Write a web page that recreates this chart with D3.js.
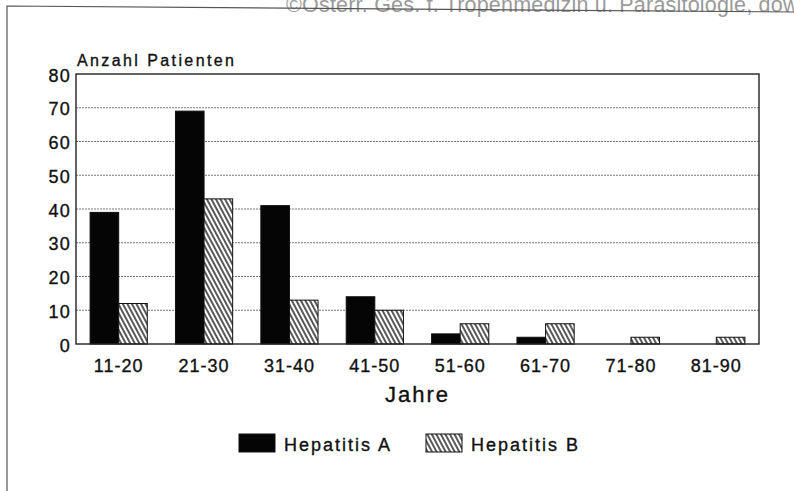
<!DOCTYPE html>
<html>
<head>
<meta charset="utf-8">
<script src="https://cdn.jsdelivr.net/npm/d3@7"></script>
<style>
  body { margin: 0; background: #fff; }
  text { font-family: "Liberation Sans", Arial, sans-serif; fill: #111; }
  .ink { stroke: #111; stroke-width: 0.35px; }
</style>
</head>
<body>
<div id="chart"></div>
<script>
const categories = ["11-20", "21-30", "31-40", "41-50", "51-60", "61-70", "71-80", "81-90"];
const seriesNames = ["Hepatitis A", "Hepatitis B"];
const hepA = [39, 69, 41, 14, 3, 2, 0, 0];
const hepB = [12, 43, 13, 10, 6, 6, 2, 2];
const yTicks = [0, 10, 20, 30, 40, 50, 60, 70, 80];

const svgWidth = 794;
const svgHeight = 491;
const margin = { top: 74, right: 35, bottom: 147, left: 76 };
const width = svgWidth - margin.left - margin.right;
const height = svgHeight - margin.top - margin.bottom;

const root = d3.select("#chart")
  .append("svg")
  .attr("width", svgWidth)
  .attr("height", svgHeight);

// hatch pattern for Hepatitis B
const defs = root.append("defs");
defs.append("pattern")
  .attr("id", "hatch")
  .attr("patternUnits", "userSpaceOnUse")
  .attr("width", 4)
  .attr("height", 8)
  .attr("patternTransform", "rotate(-28)")
  .call(p => {
    p.append("rect").attr("width", 4).attr("height", 8).attr("fill", "#fff");
    p.append("line")
      .attr("x1", 1).attr("y1", 0).attr("x2", 1).attr("y2", 8)
      .attr("stroke", "#111").attr("stroke-width", 1.4);
  });

// watermark (cut at top edge) + page frame
root.append("text")
  .attr("x", 286)
  .attr("y", 12)
  .style("font-size", "21.5px")
  .style("letter-spacing", "0.2px")
  .style("fill", "#9a9a9a")
  .text("©Österr. Ges. f. Tropenmedizin u. Parasitologie, download unter www.biologiezentrum.at");

root.append("path")
  .attr("d", `M7,${svgHeight} V6 L${svgWidth},12`)
  .attr("fill", "none")
  .attr("stroke", "#555")
  .attr("stroke-width", 1.2);

const svg = root.append("g")
  .attr("transform", `translate(${margin.left},${margin.top})`);

const x = d3.scaleBand()
  .domain(categories)
  .range([0, width])
  .paddingInner(0.33)
  .paddingOuter(0.165);

const xSub = d3.scaleBand()
  .domain(seriesNames)
  .range([0, x.bandwidth()]);

const y = d3.scaleLinear()
  .domain([0, 80])
  .range([height, 0]);

// gridlines
svg.append("g")
  .selectAll("line")
  .data(yTicks.filter(t => t > 0 && t < 80))
  .enter()
  .append("line")
  .attr("x1", 0)
  .attr("x2", width)
  .attr("y1", d => y(d))
  .attr("y2", d => y(d))
  .attr("stroke", "#777")
  .attr("stroke-width", 1)
  .attr("stroke-dasharray", "2,1");

const rows = categories.map((c, i) => ({ cat: c, values: [hepA[i], hepB[i]] }));

const group = svg.append("g")
  .selectAll("g")
  .data(rows)
  .enter()
  .append("g")
  .attr("transform", d => `translate(${x(d.cat)},0)`);

group.selectAll("rect")
  .data(d => d.values.map((v, j) => ({ name: seriesNames[j], value: v })))
  .enter()
  .filter(d => d.value > 0)
  .append("rect")
  .attr("x", d => xSub(d.name))
  .attr("y", d => y(d.value))
  .attr("width", xSub.bandwidth())
  .attr("height", d => height - y(d.value))
  .attr("fill", d => d.name === "Hepatitis A" ? "#050505" : "url(#hatch)")
  .attr("stroke", "#111")
  .attr("stroke-width", 1);

// plot frame
svg.append("rect")
  .attr("width", width)
  .attr("height", height)
  .attr("fill", "none")
  .attr("stroke", "#222")
  .attr("stroke-width", 1.4);

// axes
const yAxis = svg.append("g")
  .call(d3.axisLeft(y).tickValues(yTicks).tickSize(0).tickPadding(5));
yAxis.select(".domain").remove();
yAxis.selectAll("text")
  .attr("class", "ink")
  .attr("dy", "0.4em")
  .style("font-size", "18px")
  .style("letter-spacing", "1.2px")
  .style("font-family", "Liberation Sans, Arial, sans-serif")
  .style("fill", "#111");

const xAxis = svg.append("g")
  .attr("transform", `translate(0,${height})`)
  .call(d3.axisBottom(x).tickSize(0).tickPadding(15));
xAxis.select(".domain").remove();
xAxis.selectAll("text")
  .attr("class", "ink")
  .style("font-size", "18px")
  .style("letter-spacing", "1px")
  .style("font-family", "Liberation Sans, Arial, sans-serif")
  .style("fill", "#111");

svg.append("text")
  .attr("class", "ink")
  .attr("x", 1)
  .attr("y", -8)
  .style("font-size", "16px")
  .style("letter-spacing", "2.4px")
  .text("Anzahl Patienten");

svg.append("text")
  .attr("class", "ink")
  .attr("x", width / 2)
  .attr("y", height + 58)
  .attr("text-anchor", "middle")
  .style("font-size", "22px")
  .style("letter-spacing", "2px")
  .text("Jahre");

// legend
const legendItems = [
  { name: seriesNames[0], fill: "#050505", x: 239 },
  { name: seriesNames[1], fill: "url(#hatch)", x: 426 }
];
const legend = root.append("g")
  .selectAll("g")
  .data(legendItems)
  .enter()
  .append("g")
  .attr("transform", d => `translate(${d.x},434)`);
legend.append("rect")
  .attr("width", 36)
  .attr("height", 18)
  .attr("fill", d => d.fill)
  .attr("stroke", "#111")
  .attr("stroke-width", 1);
legend.append("text")
  .attr("class", "ink")
  .attr("x", 45)
  .attr("y", 17)
  .style("font-size", "18px")
  .style("letter-spacing", "2px")
  .text(d => d.name);
</script>
</body>
</html>
